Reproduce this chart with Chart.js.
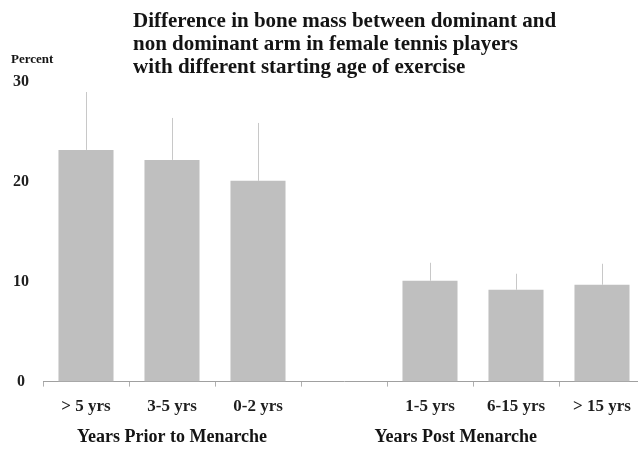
<!DOCTYPE html>
<html>
<head>
<meta charset="utf-8">
<script src="https://cdn.jsdelivr.net/npm/chart.js@4/dist/chart.umd.min.js"></script>
<style>
  html, body { margin: 0; padding: 0; background: #fff; overflow: hidden; }
  #wrap { width: 650px; height: 449px; }
</style>
</head>
<body>
<div id="wrap"><canvas id="boneChart" width="650" height="449"></canvas></div>
<script>
// Datos (la ranura vacía separa los dos grupos)
const categories = ['> 5 yrs', '3-5 yrs', '0-2 yrs', '', '1-5 yrs', '6-15 yrs', '> 15 yrs'];
const meanDiff = [23.2, 22.2, 20.1, null, 10.1, 9.2, 9.7];
const errorUp = [5.8, 4.2, 5.8, null, 1.8, 1.6, 2.1];
const yTicks = [0, 10, 20, 30];
const titleLines = [
    'Difference in bone mass between dominant and',
    'non dominant arm in female tennis players',
    'with different starting age of exercise'
];
const groupLabels = ['Years Prior to Menarche', 'Years Post Menarche'];
const groupCenters = [1, 4.3];

const serif = '"Liberation Serif", "DejaVu Serif", serif';

// Barras de error (solo hacia arriba) y textos extra
const extrasPlugin = {
    id: 'extras',
    afterDatasetsDraw(chart) {
        const ctx = chart.ctx;
        const meta = chart.getDatasetMeta(0);
        const y = chart.scales.y;
        ctx.save();
        ctx.strokeStyle = '#c8c8c8';
        ctx.lineWidth = 1;
        meta.data.forEach((bar, i) => {
            if (meanDiff[i] === null) return;
            const top = y.getPixelForValue(meanDiff[i] + errorUp[i]);
            const x = Math.round(bar.x) + 0.5;
            ctx.beginPath();
            ctx.moveTo(x, bar.y);
            ctx.lineTo(x, top);
            ctx.stroke();
        });
        ctx.restore();
    },
    afterDraw(chart) {
        const ctx = chart.ctx;
        const x = chart.scales.x;
        ctx.save();
        ctx.fillStyle = '#141414';

        // Título
        ctx.font = 'bold 21px ' + serif;
        ctx.textAlign = 'left';
        ctx.textBaseline = 'alphabetic';
        titleLines.forEach((line, i) => ctx.fillText(line, 133, 27 + i * 23));

        // Etiqueta del eje Y
        ctx.textBaseline = 'middle';
        ctx.font = 'bold 13px ' + serif;
        ctx.fillText('Percent', 11, 60);

        // Etiquetas de grupo
        ctx.font = 'bold 18px ' + serif;
        ctx.textAlign = 'center';
        groupLabels.forEach((g, i) => ctx.fillText(g, x.getPixelForValue(groupCenters[i]), 437));
        ctx.restore();
    }
};

const ctx = document.getElementById('boneChart').getContext('2d');
new Chart(ctx, {
    type: 'bar',
    data: {
        labels: categories,
        datasets: [{
            data: meanDiff,
            backgroundColor: '#bfbfbf',
            borderWidth: 0,
            barPercentage: 0.64,
            categoryPercentage: 1.0
        }]
    },
    options: {
        responsive: false,
        animation: false,
        plugins: {
            legend: { display: false },
            tooltip: { enabled: false }
        },
        layout: {
            padding: { top: 82, right: 5, bottom: 22, left: 0 }
        },
        scales: {
            x: {
                grid: {
                    drawOnChartArea: false,
                    drawTicks: true,
                    tickLength: 5,
                    color: '#b0b0b0'
                },
                border: { color: '#a0a0a0', width: 1 },
                ticks: {
                    color: '#1e1e1e',
                    font: { family: serif, size: 17, weight: 'bold' },
                    padding: 10,
                    maxRotation: 0,
                    autoSkip: false
                }
            },
            y: {
                min: 0,
                max: 30,
                afterBuildTicks(scale) {
                    scale.ticks = yTicks.map(v => ({ value: v }));
                },
                afterFit(scale) {
                    scale.width = 43;
                },
                grid: { display: false },
                border: { display: false },
                ticks: {
                    color: '#1e1e1e',
                    crossAlign: 'center',
                    padding: 6,
                    font: { family: serif, size: 16, weight: 'bold' }
                }
            }
        }
    },
    plugins: [extrasPlugin]
});
</script>
</body>
</html>
